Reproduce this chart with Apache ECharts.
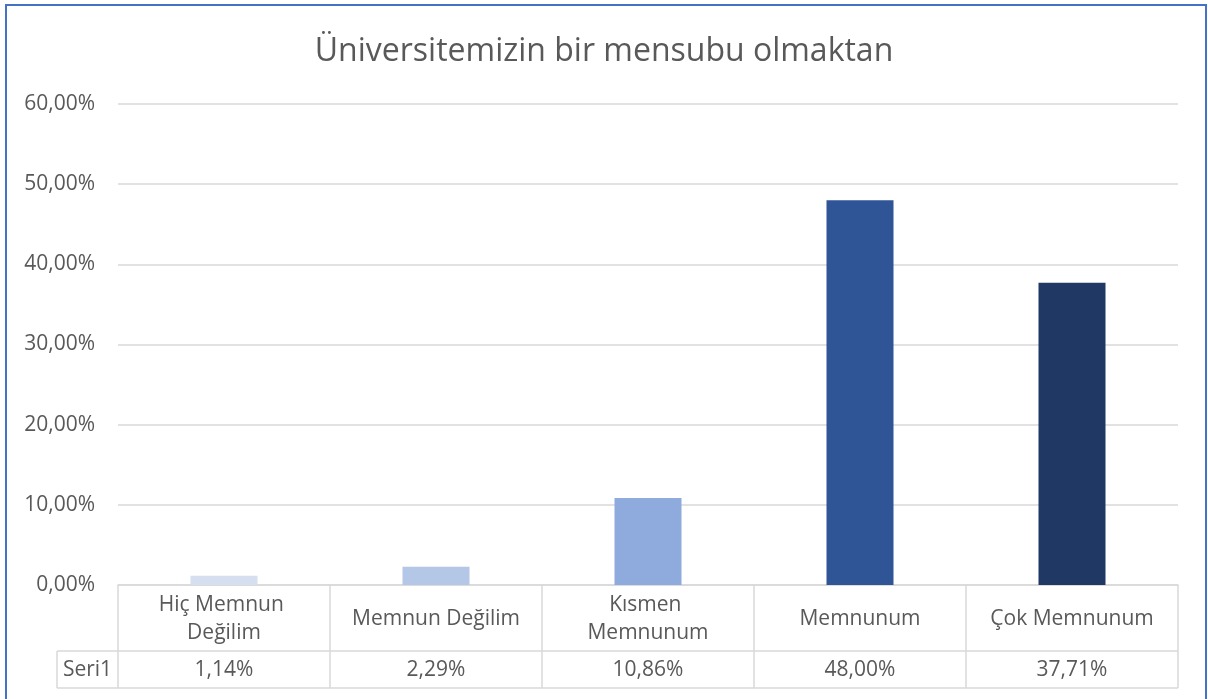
<!DOCTYPE html>
<html>
<head>
<meta charset="utf-8">
<style>
  html, body { margin: 0; padding: 0; background: #ffffff; }
  #chart { width: 1208px; height: 699px; }
</style>
<script src="https://cdn.jsdelivr.net/npm/echarts@6/dist/echarts.min.js"></script>
</head>
<body>
<div id="chart"></div>
<script>
// ---- data ----
const titleText = 'Üniversitemizin bir mensubu olmaktan';
const seriesName = 'Seri1';
const categories = ['Hiç Memnun Değilim', 'Memnun Değilim', 'Kısmen Memnunum', 'Memnunum', 'Çok Memnunum'];
const values = [0.0114, 0.0229, 0.1086, 0.4800, 0.3771];
const barColors = ['#D6DFF0', '#B4C7E7', '#8FAADC', '#2F5597', '#203864'];
const yTicks = [0, 0.1, 0.2, 0.3, 0.4, 0.5, 0.6];

// ---- layout ----
const W = 1208, H = 699;
const gridLeft = 118, gridRight = 1178, gridTop = 104, gridBottom = 585;
const headerBottom = 651, tableBottom = 688, seriesColLeft = 57;
const textColor = '#595959';
const lineColor = '#D9D9D9';
const fontFamily = '"Open Sans", "Noto Sans", sans-serif';

function pct(v) {
  return (v * 100).toFixed(2).replace('.', ',') + '%';
}

const chart = echarts.init(document.getElementById('chart'), null, { renderer: 'canvas' });

const option = {
  animation: false,
  backgroundColor: '#ffffff',
  textStyle: { fontFamily: fontFamily },
  title: {
    text: titleText,
    left: 'center',
    top: 31,
    textStyle: { color: textColor, fontSize: 32, fontWeight: 'normal', fontFamily: fontFamily }
  },
  grid: {
    left: gridLeft,
    right: W - gridRight,
    top: gridTop,
    bottom: H - gridBottom,
    containLabel: false
  },
  yAxis: {
    type: 'value',
    min: yTicks[0],
    max: yTicks[yTicks.length - 1],
    interval: yTicks[1] - yTicks[0],
    axisLine: { show: false },
    axisTick: { show: false },
    axisLabel: {
      color: textColor,
      fontSize: 21,
      margin: 23,
      fontFamily: fontFamily,
      formatter: function (v) { return pct(v); }
    },
    splitLine: { lineStyle: { color: lineColor, width: 1.5 } }
  },
  xAxis: [
    {
      type: 'category',
      data: categories,
      position: 'bottom',
      axisLine: { show: true, lineStyle: { color: lineColor, width: 1.5 } },
      axisTick: { show: true, inside: false, length: tableBottom - gridBottom, lineStyle: { color: lineColor, width: 1.5 } },
      axisLabel: {
        color: textColor,
        fontSize: 21,
        fontFamily: fontFamily,
        margin: (headerBottom - gridBottom) / 2 + 1,
        verticalAlign: 'middle',
        lineHeight: 28,
        width: 185,
        overflow: 'break',
        interval: 0
      },
      splitLine: { show: false }
    },
    {
      type: 'category',
      data: categories,
      position: 'bottom',
      axisLine: { show: false },
      axisTick: { show: false },
      axisLabel: {
        color: textColor,
        fontSize: 21,
        fontFamily: fontFamily,
        margin: (headerBottom + tableBottom) / 2 - gridBottom + 1,
        verticalAlign: 'middle',
        interval: 0,
        formatter: function (v, i) { return pct(values[i]); }
      },
      splitLine: { show: false }
    }
  ],
  series: [
    {
      name: seriesName,
      type: 'bar',
      xAxisIndex: 0,
      barWidth: 67,
      data: values.map(function (v, i) {
        return { value: v, itemStyle: { color: barColors[i] } };
      })
    }
  ],
  graphic: [
    {
      type: 'rect',
      shape: { x: 6, y: 5, width: W - 2 - 6, height: H + 10 },
      style: { fill: 'none', stroke: '#4472C4', lineWidth: 2 },
      silent: true
    },
    {
      type: 'line',
      shape: { x1: seriesColLeft, y1: headerBottom, x2: gridRight, y2: headerBottom },
      style: { stroke: lineColor, lineWidth: 1.5 }
    },
    {
      type: 'line',
      shape: { x1: seriesColLeft, y1: tableBottom, x2: gridRight, y2: tableBottom },
      style: { stroke: lineColor, lineWidth: 1.5 }
    },
    {
      type: 'line',
      shape: { x1: seriesColLeft, y1: headerBottom, x2: seriesColLeft, y2: tableBottom },
      style: { stroke: lineColor, lineWidth: 1.5 }
    },
    {
      type: 'text',
      x: (seriesColLeft + gridLeft) / 2,
      y: (headerBottom + tableBottom) / 2 + 1,
      style: {
        text: seriesName,
        fill: textColor,
        fontSize: 21,
        fontFamily: fontFamily,
        align: 'center',
        verticalAlign: 'middle'
      }
    }
  ]
};

chart.setOption(option);
</script>
</body>
</html>
